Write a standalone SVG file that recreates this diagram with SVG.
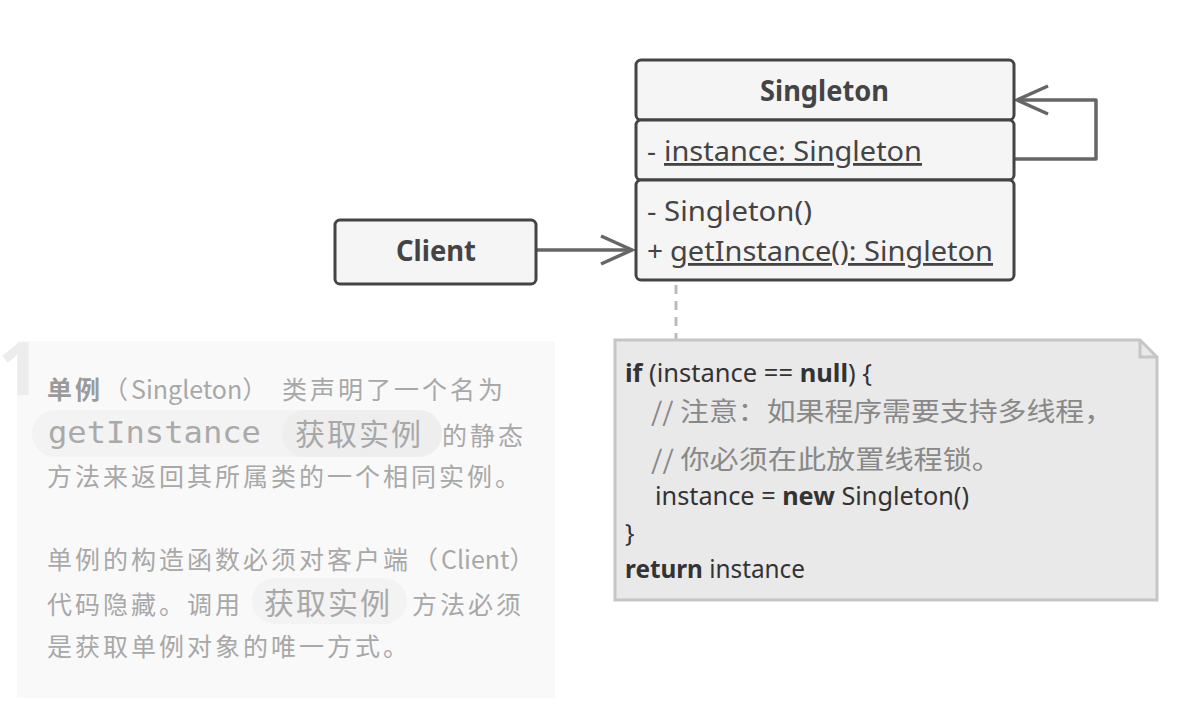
<svg xmlns="http://www.w3.org/2000/svg" width="1194" height="718" viewBox="0 0 1194 718">
<defs>
<style>
.box{fill:#f5f5f5;stroke:#444;stroke-width:3}
.t{font-family:"Noto Sans","Noto Sans CJK SC",sans-serif;fill:#444;font-size:28px}
.b{font-weight:bold}
.u{text-decoration:underline}
.conn{fill:none;stroke:#666;stroke-width:3.5}
.code{font-family:"Noto Sans","Noto Sans CJK SC",sans-serif;fill:#333;font-size:25px}
.cm{font-family:"Noto Sans CJK SC","Noto Sans",sans-serif;fill:#888;font-size:26px}
.d{font-family:"Noto Sans CJK SC","Noto Sans",sans-serif;fill:#a8a8a8;font-size:25px;letter-spacing:3px}
.lat{letter-spacing:0px}
.big{font-size:30px;letter-spacing:2px}
</style>
<marker id="open" viewBox="0 0 40 40" refX="34" refY="20" markerWidth="40" markerHeight="40" markerUnits="userSpaceOnUse" orient="auto">
<path d="M3,6 L34,20 L3,34" fill="none" stroke="#666" stroke-width="3.5"/>
</marker>
</defs>
<rect width="1194" height="718" fill="#ffffff"/>

<g id="description">
<rect x="17" y="341" width="538" height="357" fill="#f9f9f9"/>
<text x="-2" y="395" font-family="'Noto Sans',sans-serif" font-weight="bold" font-size="74" fill="#ececec">1</text>
<rect x="32" y="410" width="410" height="47" rx="23.5" fill="#f3f3f3"/>
<rect x="282" y="410" width="160" height="47" rx="23.5" fill="#eeeeee"/>
<rect x="252" y="578" width="155" height="46" rx="23" fill="#f3f3f3"/>
<text class="d" y="399"><tspan x="47" font-weight="bold" fill="#9a9a9a">单例</tspan><tspan x="103">（<tspan class="lat">Singleton</tspan>）</tspan><tspan x="282">类声明了一个名为</tspan></text>
<text y="443" x="48" font-family="'DejaVu Sans Mono',monospace" font-size="31" fill="#aaa" textLength="213" lengthAdjust="spacingAndGlyphs">getInstance</text>
<text class="d big" x="295" y="445">获取实例</text>
<text class="d" x="442" y="445">的静态</text>
<text class="d" x="47" y="486">方法来返回其所属类的一个相同实例。</text>
<text class="d" y="569"><tspan x="47">单例的构造函数必须对客户端</tspan><tspan x="413">（<tspan class="lat">Client</tspan>）</tspan></text>
<text class="d" x="47" y="614">代码隐藏。调用</text>
<text class="d big" x="264" y="614">获取实例</text>
<text class="d" x="412" y="614">方法必须</text>
<text class="d" x="47" y="656">是获取单例对象的唯一方式。</text>
</g>

<g id="connectors">
<line x1="537" y1="250" x2="632" y2="250" class="conn" marker-end="url(#open)"/>
<path d="M1015,159 H1096 V100 H1017" class="conn" stroke-linejoin="round" marker-end="url(#open)"/>
<line x1="676" y1="285" x2="676" y2="340" stroke="#bbb" stroke-width="3" stroke-dasharray="9,7"/>
</g>

<g id="singleton">
<rect class="box" x="636" y="60" width="378" height="60" rx="5"/>
<rect class="box" x="636" y="120" width="378" height="60" rx="5"/>
<rect class="box" x="636" y="180" width="378" height="100" rx="5"/>
<text class="t b" x="760" y="101" textLength="129" lengthAdjust="spacingAndGlyphs">Singleton</text>
<text class="t" x="647" y="161">-</text>
<text class="t u" x="664" y="161" textLength="258" lengthAdjust="spacingAndGlyphs">instance: Singleton</text>
<text class="t" x="647" y="221" textLength="165" lengthAdjust="spacingAndGlyphs">- Singleton()</text>
<text class="t" x="647" y="261">+</text>
<text class="t u" x="670" y="261" textLength="323" lengthAdjust="spacingAndGlyphs">getInstance(): Singleton</text>
</g>

<g id="client">
<rect class="box" x="335" y="220" width="201" height="64" rx="5"/>
<text class="t b" x="396" y="261" textLength="80" lengthAdjust="spacingAndGlyphs">Client</text>
</g>

<g id="note">
<path d="M615,340 H1140 L1157,357 V600 H615 Z" fill="#e9e9e9" stroke="#c6c6c6" stroke-width="3"/>
<path d="M1140,340 V357 H1157" fill="none" stroke="#c6c6c6" stroke-width="3"/>
<text class="code" x="625" y="382" textLength="247" lengthAdjust="spacingAndGlyphs"><tspan font-weight="bold">if</tspan> (instance == <tspan font-weight="bold">null</tspan>) {</text>
<text class="cm" x="651" y="421" textLength="462" lengthAdjust="spacingAndGlyphs">// 注意：如果程序需要支持多线程，</text>
<text class="cm" x="651" y="469" textLength="350" lengthAdjust="spacingAndGlyphs">// 你必须在此放置线程锁。</text>
<text class="code" x="655" y="505" textLength="314" lengthAdjust="spacingAndGlyphs">instance = <tspan font-weight="bold">new</tspan> Singleton()</text>
<text class="code" x="625" y="542">}</text>
<text class="code" x="625" y="578" textLength="180" lengthAdjust="spacingAndGlyphs"><tspan font-weight="bold">return</tspan> instance</text>
</g>
</svg>
